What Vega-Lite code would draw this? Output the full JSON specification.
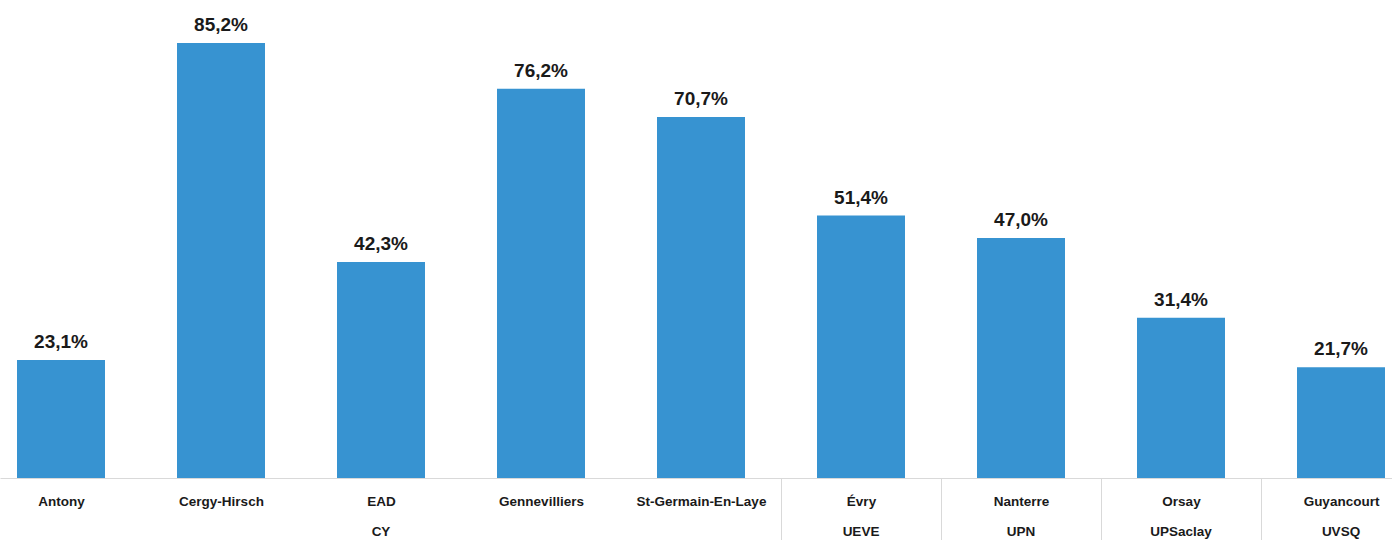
{
  "$schema": "https://vega.github.io/schema/vega-lite/v6.json",
  "width": 1392,
  "height": 478,
  "autosize": {"type": "none"},
  "padding": {"left": 0, "top": 0, "right": 0, "bottom": 62},
  "background": "white",
  "config": {
    "view": {"stroke": null},
    "locale": {"number": {"decimal": ",", "thousands": " ", "grouping": [3], "currency": ["", " €"]}}
  },
  "datasets": {
    "sites": [
      {"site": "Antony", "group": "CY", "rate": 0.231},
      {"site": "Cergy-Hirsch", "group": "CY", "rate": 0.852},
      {"site": "EAD", "group": "CY", "rate": 0.423},
      {"site": "Gennevilliers", "group": "CY", "rate": 0.762},
      {"site": "St-Germain-En-Laye", "group": "CY", "rate": 0.707},
      {"site": "Évry", "group": "UEVE", "rate": 0.514},
      {"site": "Nanterre", "group": "UPN", "rate": 0.470},
      {"site": "Orsay", "group": "UPSaclay", "rate": 0.314},
      {"site": "Guyancourt", "group": "UVSQ", "rate": 0.217}
    ],
    "groups": [
      {"site": "EAD", "group": "CY"},
      {"site": "Évry", "group": "UEVE"},
      {"site": "Nanterre", "group": "UPN"},
      {"site": "Orsay", "group": "UPSaclay"},
      {"site": "Guyancourt", "group": "UVSQ"}
    ]
  },
  "encoding": {
    "x": {
      "field": "site",
      "type": "nominal",
      "scale": {
        "domain": ["Antony", "Cergy-Hirsch", "EAD", "Gennevilliers", "St-Germain-En-Laye", "Évry", "Nanterre", "Orsay", "Guyancourt"],
        "range": [0, 1402],
        "paddingInner": 0.45,
        "paddingOuter": 0.10625
      },
      "axis": {
        "title": null,
        "labelAngle": 0,
        "labelFont": "Liberation Sans",
        "labelFontWeight": "bold",
        "labelFontSize": 13.5,
        "labelColor": "#1a1a1a",
        "labelBaseline": "middle",
        "labelPadding": -39,
        "labelOffset": 80,
        "domainColor": "#d9d9d9",
        "domainWidth": 1,
        "ticks": true,
        "tickSize": 62,
        "tickWidth": 1,
        "tickOffset": -80,
        "tickColor": {
          "condition": {"test": "indexof(['Évry','Nanterre','Orsay','Guyancourt'], datum.value) >= 0", "value": "#d9d9d9"},
          "value": "transparent"
        }
      }
    }
  },
  "layer": [
    {
      "data": {"name": "sites"},
      "mark": {"type": "bar", "color": "#3793d1"},
      "encoding": {
        "y": {"field": "rate", "type": "quantitative", "scale": {"domain": [0, 0.936], "nice": false}, "axis": null}
      }
    },
    {
      "data": {"name": "sites"},
      "mark": {"type": "text", "baseline": "alphabetic", "dy": -12, "font": "Liberation Sans", "fontWeight": "bold", "fontSize": 19, "color": "#1a1a1a"},
      "encoding": {
        "y": {"field": "rate", "type": "quantitative"},
        "text": {"field": "rate", "type": "quantitative", "format": ".1%"}
      }
    },
    {
      "data": {"name": "groups"},
      "mark": {"type": "text", "baseline": "middle", "dy": 54, "font": "Liberation Sans", "fontWeight": "bold", "fontSize": 13.5, "color": "#1a1a1a"},
      "encoding": {
        "y": {"datum": 0, "type": "quantitative"},
        "text": {"field": "group", "type": "nominal"}
      }
    }
  ]
}
